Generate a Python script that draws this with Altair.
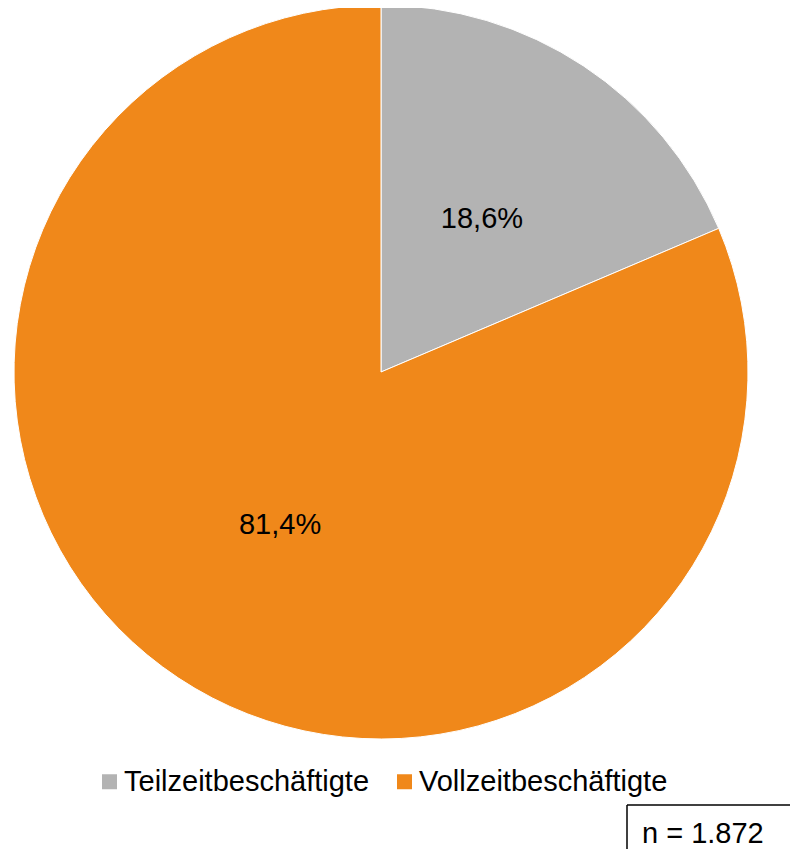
import altair as alt
import pandas as pd

categories = ["Teilzeitbeschäftigte", "Vollzeitbeschäftigte"]
shares = [18.6, 81.4]
colors = ["#B3B3B3", "#F0881A"]
note = ["n = 1.872"]

df = pd.DataFrame({
    "cat": categories,
    "value": shares,
    "order": list(range(len(categories))),
    "label": [f"{v:.1f}".replace(".", ",") + "%" for v in shares],
})

FONT = "Liberation Sans"
FS = 29
CX, CY, R = 373, 364, 367

base = alt.Chart(df).encode(
    theta=alt.Theta("value:Q", stack=True),
    order=alt.Order("order:Q"),
)

pie = base.mark_arc(radius=R, stroke="white", strokeWidth=1).encode(
    x=alt.value(CX),
    y=alt.value(CY),
    color=alt.Color(
        "cat:N",
        scale=alt.Scale(domain=categories, range=colors),
        sort=categories,
        legend=alt.Legend(
            title=None,
            orient="none",
            legendX=87,
            legendY=759,
            direction="horizontal",
            symbolType="square",
            symbolSize=225,
            symbolStrokeWidth=0,
            labelFont=FONT,
            labelFontSize=FS,
            labelColor="#000000",
            labelLimit=0,
            labelOffset=0,
            columnPadding=20,
            padding=0,
        ),
    ),
)

labels = base.mark_text(radius=183, font=FONT, fontSize=FS, color="#000000").encode(
    x=alt.value(CX),
    y=alt.value(CY),
    text="label:N",
)

note_df = pd.DataFrame({"t": note})
box_left = alt.Chart(note_df).mark_rule(color="#000000", strokeWidth=1.5).encode(
    x=alt.value(619), y=alt.value(797), y2=alt.value(841)
)
box_top = alt.Chart(note_df).mark_rule(color="#000000", strokeWidth=1.5).encode(
    x=alt.value(619), x2=alt.value(782), y=alt.value(797)
)
note_text = alt.Chart(note_df).mark_text(
    align="left", baseline="middle", font=FONT, fontSize=FS, color="#000000"
).encode(x=alt.value(634), y=alt.value(826), text="t:N")

chart = alt.layer(pie, labels, box_left, box_top, note_text).properties(
    width=782,
    height=841,
    autosize=alt.AutoSizeParams(type="none"),
    padding=0,
).configure_view(stroke=None)

chart.save("out.html", embed_options={"renderer": "svg", "actions": False})
